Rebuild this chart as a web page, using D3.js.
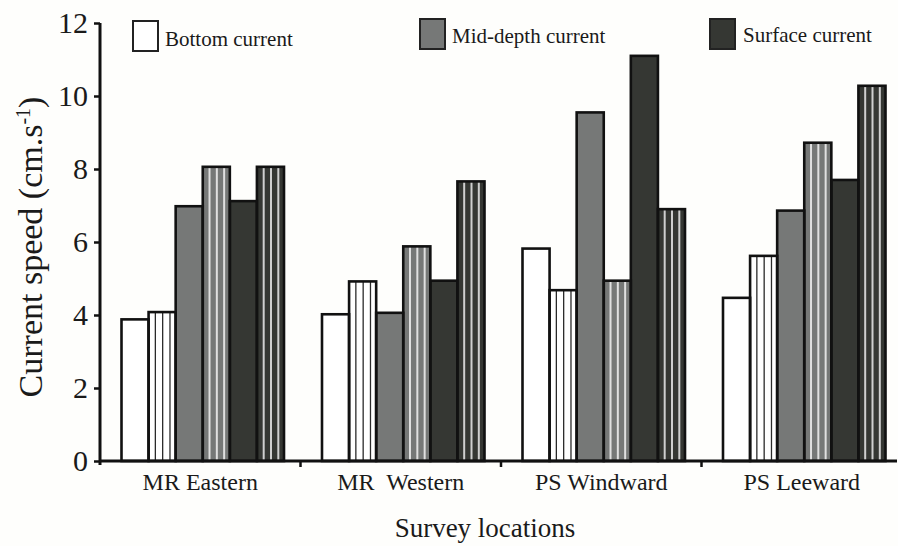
<!DOCTYPE html>
<html>
<head>
<meta charset="utf-8">
<script src="https://cdn.jsdelivr.net/npm/d3@7"></script>
<style>
  html, body { margin: 0; padding: 0; background: #fefefc; }
  svg { display: block; }
  text { font-family: "Liberation Serif", "Times New Roman", serif; fill: #1a1a1a; white-space: pre; }
</style>
</head>
<body>
<svg id="chart" width="898" height="546"></svg>
<script>
// Survey locations and current speeds (cm/s), two surveys per depth
const locations = ["MR Eastern", "MR  Western", "PS Windward", "PS Leeward"];
const bottomPlain    = [3.88, 4.02, 5.82, 4.47];
const bottomStriped  = [4.08, 4.92, 4.68, 5.62];
const midPlain       = [6.98, 4.06, 9.55, 6.86];
const midStriped     = [8.06, 5.88, 4.94, 8.72];
const surfacePlain   = [7.12, 4.94, 11.1, 7.70];
const surfaceStriped = [8.06, 7.66, 6.90, 10.28];
const yTicks = [0, 2, 4, 6, 8, 10, 12];
const legendItems = ["Bottom current", "Mid-depth current", "Surface current"];

const seriesDefs = [
  { key: "bottomPlain",    values: bottomPlain,    fill: "#ffffff", stripe: null },
  { key: "bottomStriped",  values: bottomStriped,  fill: "#ffffff", stripe: "#2a2a2a" },
  { key: "midPlain",       values: midPlain,       fill: "#767877", stripe: null },
  { key: "midStriped",     values: midStriped,     fill: "#767877", stripe: "#e0e0e0" },
  { key: "surfacePlain",   values: surfacePlain,   fill: "#353733", stripe: null },
  { key: "surfaceStriped", values: surfaceStriped, fill: "#353733", stripe: "#cfcfcf" }
];

const svg = d3.select("#chart");

const y = d3.scaleLinear().domain([0, 12]).range([461, 23]);
const x0 = d3.scaleBand().domain(locations).range([100, 902]);
const x1 = d3.scaleBand().domain(seriesDefs.map(d => d.key))
  .range([21.5, 184]);

const rows = [];
locations.forEach((loc, i) => {
  seriesDefs.forEach(s => {
    rows.push({ loc, key: s.key, value: s.values[i], fill: s.fill, stripe: s.stripe });
  });
});

const bars = svg.append("g");
const bw = x1.bandwidth();

// bar fills
bars.selectAll("rect.fill").data(rows).join("rect")
  .attr("class", "fill")
  .attr("x", d => x0(d.loc) + x1(d.key))
  .attr("y", d => y(d.value))
  .attr("width", bw)
  .attr("height", d => y(0) - y(d.value))
  .attr("fill", d => d.fill);

// vertical stripes on the second survey of each depth
const stripeFrac = [0.25, 0.52, 0.79];
const stripeRows = [];
rows.filter(d => d.stripe).forEach(d => {
  stripeFrac.forEach(f => stripeRows.push({ ...d, f }));
});
bars.selectAll("line.stripe").data(stripeRows).join("line")
  .attr("class", "stripe")
  .attr("x1", d => x0(d.loc) + x1(d.key) + bw * d.f)
  .attr("x2", d => x0(d.loc) + x1(d.key) + bw * d.f)
  .attr("y1", d => y(d.value))
  .attr("y2", y(0))
  .attr("stroke", d => d.stripe)
  .attr("stroke-width", d => d.fill === "#ffffff" ? 1.3 : 2);

// bar outlines
bars.selectAll("rect.outline").data(rows).join("rect")
  .attr("class", "outline")
  .attr("x", d => x0(d.loc) + x1(d.key))
  .attr("y", d => y(d.value))
  .attr("width", bw)
  .attr("height", d => y(0) - y(d.value))
  .attr("fill", "none")
  .attr("stroke", "#111")
  .attr("stroke-width", 2.6);

// y axis
const yAxis = svg.append("g")
  .attr("transform", "translate(100,0)")
  .call(d3.axisLeft(y).tickValues(yTicks).tickSize(6).tickSizeOuter(0).tickPadding(6));
yAxis.select(".domain").attr("stroke", "#111").attr("stroke-width", 3)
  .attr("d", `M0,${y(12)}V${y(0) + 4}`);
yAxis.selectAll(".tick line").attr("stroke", "#111").attr("stroke-width", 2.5);
yAxis.selectAll(".tick text")
  .style("font-family", "'Liberation Serif', serif")
  .style("font-size", "30px").attr("fill", "#1a1a1a");

// x axis
const xAxis = svg.append("g")
  .attr("transform", `translate(0,${y(0)})`)
  .call(d3.axisBottom(x0).tickSize(0).tickPadding(12));
xAxis.select(".domain").attr("stroke", "#111").attr("stroke-width", 3)
  .attr("d", "M100,0H897");
xAxis.selectAll(".tick text")
  .style("font-family", "'Liberation Serif', serif")
  .style("font-size", "24px").attr("fill", "#1a1a1a");
// boundary ticks between locations
xAxis.selectAll("line.sep").data(locations.slice(1)).join("line")
  .attr("class", "sep")
  .attr("x1", d => x0(d)).attr("x2", d => x0(d))
  .attr("y1", 0).attr("y2", 6)
  .attr("stroke", "#111").attr("stroke-width", 2.5);

// axis titles
svg.append("text")
  .attr("x", 485).attr("y", 537)
  .attr("text-anchor", "middle")
  .style("font-size", "27px")
  .text("Survey locations");

const yt = svg.append("text")
  .attr("transform", "translate(42,247) rotate(-90)")
  .attr("text-anchor", "middle")
  .style("font-size", "34px");
yt.append("tspan").text("Current speed (cm.s");
yt.append("tspan").attr("dy", -12).style("font-size", "20px").text("-1");
yt.append("tspan").attr("dy", 12).text(")");

// legend
const legendPos = [
  { bx: 133, by: 21, tx: 165, ty: 46 },
  { bx: 420, by: 19, tx: 452, ty: 43 },
  { bx: 710, by: 19, tx: 743, ty: 42 }
];
const legendFill = ["#ffffff", "#767877", "#353733"];
const lg = svg.append("g");
lg.selectAll("rect").data(legendItems).join("rect")
  .attr("x", (d, i) => legendPos[i].bx).attr("y", (d, i) => legendPos[i].by)
  .attr("width", 25).attr("height", 30)
  .attr("fill", (d, i) => legendFill[i])
  .attr("stroke", "#222").attr("stroke-width", 2);
lg.selectAll("text").data(legendItems).join("text")
  .attr("x", (d, i) => legendPos[i].tx).attr("y", (d, i) => legendPos[i].ty)
  .style("font-size", "21px")
  .text(d => d);
</script>
</body>
</html>
